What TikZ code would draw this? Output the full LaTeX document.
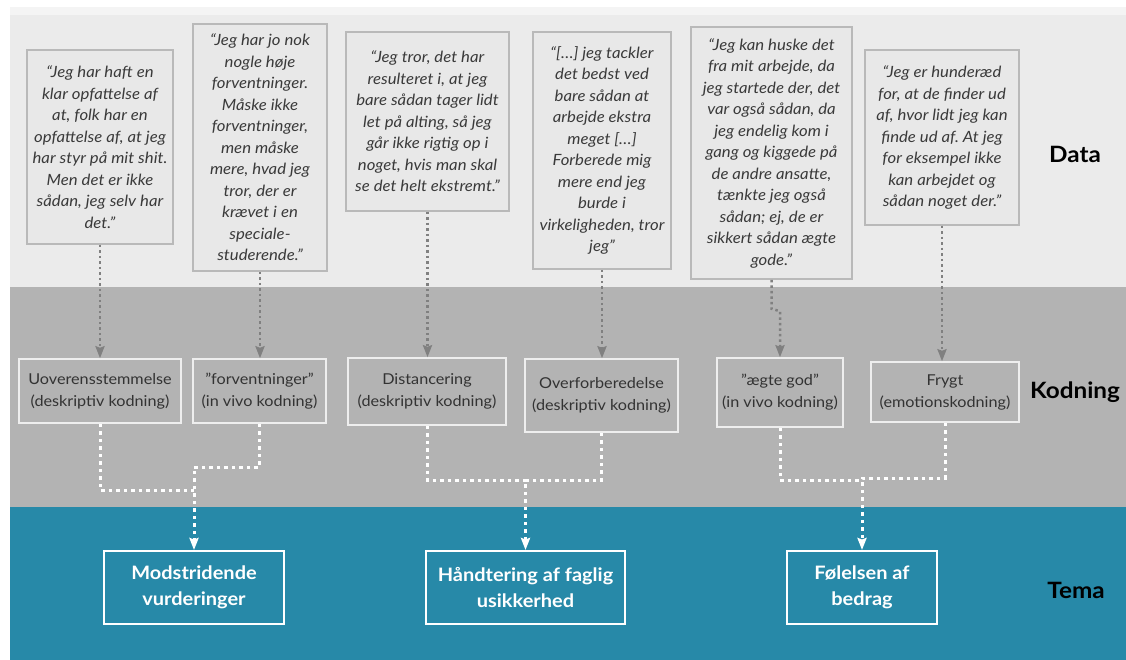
\documentclass[tikz,border=0pt]{standalone}
\usepackage{fontspec}
\setmainfont{Lato}[FakeStretch=1.08]
\usetikzlibrary{arrows.meta,calc}
\definecolor{bandtop}{HTML}{EBEBEB}
\definecolor{bandstrip}{HTML}{F4F4F4}
\definecolor{bandmid}{HTML}{B3B3B3}
\definecolor{bandteal}{HTML}{2789A8}
\definecolor{boxfill}{HTML}{E8E8E8}
\definecolor{boxline}{HTML}{B9B9B9}
\definecolor{quotetext}{HTML}{3A3A3A}
\definecolor{codetext}{HTML}{333333}
\definecolor{arrgray}{HTML}{808080}
\definecolor{codeline}{HTML}{EEEEEE}
\frenchspacing
\begin{document}
\begin{tikzpicture}[x=1pt,y=-1pt,
  quote/.style={draw=boxline,line width=1.5pt,fill=boxfill,align=center,inner sep=0pt,
    text=quotetext,font=\fontsize{15.5}{21.5}\selectfont\itshape},
  codebox/.style={draw=codeline,line width=1.5pt,fill=bandmid,align=center,inner sep=0pt,
    text=codetext,font=\fontsize{15}{22}\selectfont},
  themebox/.style={draw=white,line width=2pt,fill=bandteal,align=center,inner sep=0pt,
    text=white,font=\fontsize{18.5}{26}\selectfont\bfseries},
  rowlabel/.style={text=black,font=\fontsize{22.5}{26}\selectfont\bfseries,inner sep=0pt},
  grayarr/.style={draw=arrgray,line width=2.5pt,dash pattern=on 2.5pt off 3pt,
    -{Stealth[length=12pt,width=9pt,inset=1.5pt]}},
  wline/.style={draw=white,line width=3pt,dash pattern=on 3.5pt off 4pt},
  warr/.style={wline,-{Stealth[length=12pt,width=9pt,inset=1.5pt]}}]
\useasboundingbox (0,0) rectangle (1126,660);
% bands
\fill[white] (0,0) rectangle (1126,660);
\fill[bandstrip] (10,7) rectangle (1126,15);
\fill[bandtop] (10,15) rectangle (1126,287);
\fill[bandmid] (10,287) rectangle (1126,507);
\fill[bandteal] (10,507) rectangle (1126,660);
% data boxes
\node[quote,minimum width=146pt,minimum height=194pt] (b1) at (100,147)
  {“Jeg har haft en\\klar opfattelse af\\at, folk har en\\opfattelse af, at jeg\\har styr på mit shit.\\Men det er ikke\\sådan, jeg selv har\\det.”};
\node[quote,minimum width=134pt,minimum height=247pt] (b2) at (260,147.5)
  {“Jeg har jo nok\\nogle høje\\forventninger.\\Måske ikke\\forventninger,\\men måske\\mere, hvad jeg\\tror, der er\\krævet i en\\speciale-\\studerende.”};
\node[quote,minimum width=163pt,minimum height=179pt] (b3) at (427.5,121.5)
  {“Jeg tror, det har\\resulteret i, at jeg\\bare sådan tager lidt\\let på alting, så jeg\\går ikke rigtig op i\\noget, hvis man skal\\se det helt ekstremt.”};
\node[quote,minimum width=138pt,minimum height=237pt] (b4) at (602,150.5)
  {“[…] jeg tackler\\det bedst ved\\bare sådan at\\arbejde ekstra\\meget […]\\Forberede mig\\mere end jeg\\burde i\\virkeligheden, tror\\jeg”};
\node[quote,minimum width=161pt,minimum height=252pt] (b5) at (771.5,153)
  {“Jeg kan huske det\\fra mit arbejde, da\\jeg startede der, det\\var også sådan, da\\jeg endelig kom i\\gang og kiggede på\\de andre ansatte,\\tænkte jeg også\\sådan; ej, de er\\sikkert sådan ægte\\gode.”};
\node[quote,minimum width=154pt,minimum height=175pt] (b6) at (942,137.5)
  {“Jeg er hunderæd\\for, at de finder ud\\af, hvor lidt jeg kan\\finde ud af. At jeg\\for eksempel ikke\\kan arbejdet og\\sådan noget der.”};
% coding boxes
\node[codebox,minimum width=162pt,minimum height=64pt] (c1) at (100,391) {Uoverensstemmelse\\(deskriptiv kodning)};
\node[codebox,minimum width=133pt,minimum height=64pt] (c2) at (259.5,391) {"forventninger"\\(in vivo kodning)};
\node[codebox,minimum width=158pt,minimum height=67pt] (c3) at (427,391.5) {Distancering\\(deskriptiv kodning)};
\node[codebox,minimum width=153pt,minimum height=73pt] (c4) at (601.5,395.5) {Overforberedelse\\(deskriptiv kodning)};
\node[codebox,minimum width=126pt,minimum height=69pt] (c5) at (780,392.5) {"ægte god"\\(in vivo kodning)};
\node[codebox,minimum width=148pt,minimum height=60pt] (c6) at (945,392) {Frygt\\(emotionskodning)};
% theme boxes
\node[themebox,minimum width=180pt,minimum height=73pt] (t1) at (194,587.5) {Modstridende\\vurderinger};
\node[themebox,minimum width=199pt,minimum height=73pt] (t2) at (525.5,587.5) {Håndtering af faglig\\usikkerhed};
\node[themebox,minimum width=150pt,minimum height=73pt] (t3) at (862,587.5) {Følelsen af\\bedrag};
% row labels
\node[rowlabel] (ldata) at (1075,154) {Data};
\node[rowlabel] (lkod) at (1075,392) {Kodning};
\node[rowlabel] (ltema) at (1076,590) {Tema};
% data -> coding
\draw[grayarr] (b1.south) -- (b1.south |- c1.north);
\draw[grayarr] (b2.south) -- (b2.south |- c2.north);
\draw[grayarr] (b3.south) -- (b3.south |- c3.north);
\draw[grayarr] (b4.south) -- (b4.south |- c4.north);
\draw[grayarr] (b5.south) -- ++(0,29) -- ($(c5.north)+(0,-46)$) -- (c5.north);
\draw[grayarr] (b6.south) -- (b6.south |- c6.north);
% coding -> theme
\coordinate (ya) at (0,490);
\coordinate (yb) at (0,467);
\coordinate (yc) at (0,480);
\coordinate (yd) at (0,478);
\draw[wline] (c1.south) |- (t1.north |- ya);
\draw[warr] (c2.south) |- (t1.north |- yb) -- (t1.north);
\draw[wline] (c3.south) |- (t2.north |- yc);
\draw[warr] (c4.south) |- (t2.north |- yc) -- (t2.north);
\draw[wline] (c5.south) |- (t3.north |- yc);
\draw[warr] (c6.south) |- (t3.north |- yd) -- (t3.north);
\end{tikzpicture}
\end{document}
